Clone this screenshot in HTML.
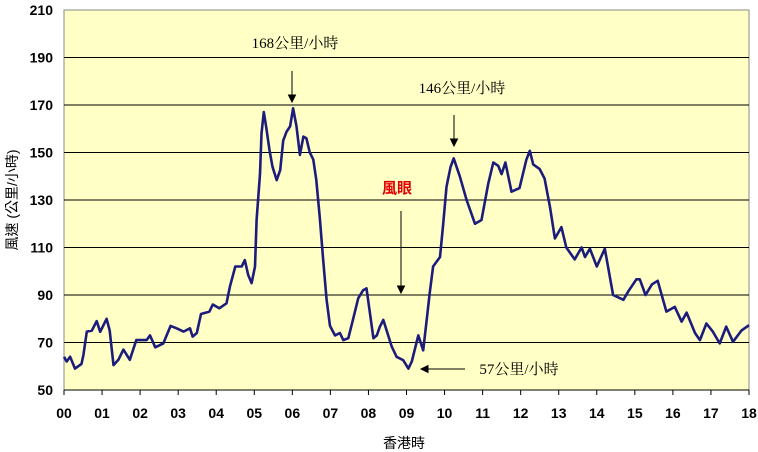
<!DOCTYPE html>
<html><head><meta charset="utf-8"><style>
body{margin:0;background:#fff;width:758px;height:452px;overflow:hidden}
svg{display:block}
.t{font-family:"Liberation Sans","Noto Sans CJK TC",sans-serif;font-weight:bold;font-size:14px;fill:#000}
.a{font-family:"Liberation Serif","Noto Serif CJK SC",serif;font-size:15px;fill:#000}
</style></head><body>
<svg id="chart" width="758" height="452">
<rect x="64" y="10" width="685" height="380" fill="#ffffc6" stroke="#888" stroke-width="1"/>
<g id="grid"></g><g id="ticks"></g>
<path id="line" fill="none" stroke="#1c1c7c" stroke-width="2.6" stroke-linejoin="round"/>
<text x="17" y="200" transform="rotate(-90 17 200)" text-anchor="middle" style="font-family:'Liberation Sans','Noto Sans CJK TC',sans-serif;font-size:14px">風速 (公里/小時)</text>
<text x="404" y="448" text-anchor="middle" style="font-family:'Liberation Sans','Noto Sans CJK TC',sans-serif;font-size:14px">香港時</text>
<text class="a" x="295" y="48" text-anchor="middle">168公里/小時</text>
<text class="a" x="462" y="93" text-anchor="middle">146公里/小時</text>
<text x="397" y="193" text-anchor="middle" style="font-family:'Liberation Sans','Noto Sans CJK TC',sans-serif;font-size:15px;font-weight:bold;fill:#e00000">風眼</text>
<text class="a" x="519" y="374" text-anchor="middle">57公里/小時</text>
<g stroke="#000" stroke-width="1" fill="#000">
<line x1="292" y1="71" x2="292" y2="96"/><polygon points="288.5,95 295.5,95 292,102"/>
<line x1="454" y1="115" x2="454" y2="140"/><polygon points="450.5,139 457.5,139 454,146"/>
<line x1="401" y1="211" x2="401" y2="287"/><polygon points="397.5,286 404.5,286 401,293"/>
<line x1="465" y1="369" x2="427" y2="369"/><polygon points="428,365.5 428,372.5 421,369"/>
</g>
</svg>
<script>
const hours=[0,0.07,0.16,0.29,0.46,0.51,0.6,0.73,0.86,0.95,1.12,1.2,1.3,1.43,1.56,1.73,1.9,2.17,2.26,2.4,2.61,2.8,2.96,3.14,3.31,3.38,3.49,3.6,3.82,3.91,4.08,4.27,4.36,4.5,4.67,4.75,4.84,4.93,5.02,5.06,5.15,5.19,5.25,5.31,5.4,5.48,5.59,5.68,5.76,5.85,5.94,6.02,6.11,6.2,6.29,6.37,6.46,6.55,6.63,6.72,6.81,6.9,6.99,7.12,7.25,7.34,7.47,7.6,7.73,7.86,7.95,8.04,8.13,8.22,8.3,8.39,8.61,8.74,8.91,9.05,9.14,9.31,9.44,9.53,9.61,9.7,9.88,9.96,10.05,10.16,10.24,10.4,10.58,10.8,10.97,11.15,11.28,11.41,11.5,11.6,11.76,11.97,12.15,12.24,12.33,12.5,12.63,12.77,12.9,13.07,13.2,13.42,13.6,13.69,13.82,14,14.21,14.43,14.7,14.83,15.04,15.13,15.28,15.45,15.6,15.83,16.05,16.23,16.36,16.58,16.71,16.88,17.05,17.23,17.4,17.58,17.8,18];
const speeds=[64,62,64,59,61,64.7,74.6,75,79,74.5,80,75,60.5,62.7,67,62.7,71,71,73,68,69.6,77,76,74.6,76,72.5,74,82,83,86,84.4,86.5,93.5,102,102,104.7,98.4,95,102,121.6,141,158,167,161,151,144,138.4,142.6,155,158.8,161,168.6,161,149,156.7,156,150,147,138.4,123,104.7,88,77,73,74,71,71.8,80,88.6,92,92.8,82.2,71.8,73,76.7,79.5,68.3,64,62.6,59,62,73,66.7,79.5,90.8,102,106,119,135.6,144,147.5,140,130,120,121.6,137,145.8,144.4,140.9,145.8,133.5,135,147,150.7,145,143,139,127,113.8,118.6,110,105,110,106,109.5,102,109.5,90,88,91.6,96.6,96.6,90,94.5,96,83,85,78.8,82.6,74,71,78,74.6,69.6,76.7,70.3,75,77.3];
const yTicks=[50,70,90,110,130,150,170,190,210];
const xTicks=["00","01","02","03","04","05","06","07","08","09","10","11","12","13","14","15","16","17","18"];
const X0=64,X1=749,Y0=390,Y1=10;
const xs=h=>X0+(X1-X0)*h/18, ys=v=>Y0-(Y0-Y1)*(v-50)/160;
const NS="http://www.w3.org/2000/svg",svg=document.getElementById('chart');
const grid=document.getElementById('grid'),tk=document.getElementById('ticks');
yTicks.forEach(v=>{
 if(v>50&&v<210){const l=document.createElementNS(NS,'line');
 l.setAttribute('x1',X0);l.setAttribute('x2',X1);l.setAttribute('y1',ys(v));l.setAttribute('y2',ys(v));l.setAttribute('stroke','#000');l.setAttribute('stroke-width','1');
 
 
 grid.appendChild(l);}
 const t=document.createElementNS(NS,'text');t.setAttribute('class','t');t.setAttribute('x',53);t.setAttribute('y',ys(v)+5);t.setAttribute('text-anchor','end');t.textContent=v;
 
 
 tk.appendChild(t);
});
const bl=document.createElementNS(NS,'line');bl.setAttribute('x1',X0);bl.setAttribute('x2',X1);bl.setAttribute('y1',Y0);bl.setAttribute('y2',Y0);bl.setAttribute('stroke','#000');


tk.appendChild(bl);
xTicks.forEach((s,i)=>{
 const x=xs(i);
 const m=document.createElementNS(NS,'line');m.setAttribute('x1',x);m.setAttribute('x2',x);m.setAttribute('y1',Y0);m.setAttribute('y2',Y0+5);m.setAttribute('stroke','#000');
 
 
 tk.appendChild(m);
 const t=document.createElementNS(NS,'text');t.setAttribute('class','t');t.setAttribute('x',x);t.setAttribute('y',418);t.setAttribute('text-anchor','middle');t.textContent=s;
 
 
 tk.appendChild(t);
});
document.getElementById('line').setAttribute('d',hours.map((h,i)=>(i?'L':'M')+xs(h).toFixed(1)+','+ys(speeds[i]).toFixed(1)).join(''));
</script>
</body></html>
